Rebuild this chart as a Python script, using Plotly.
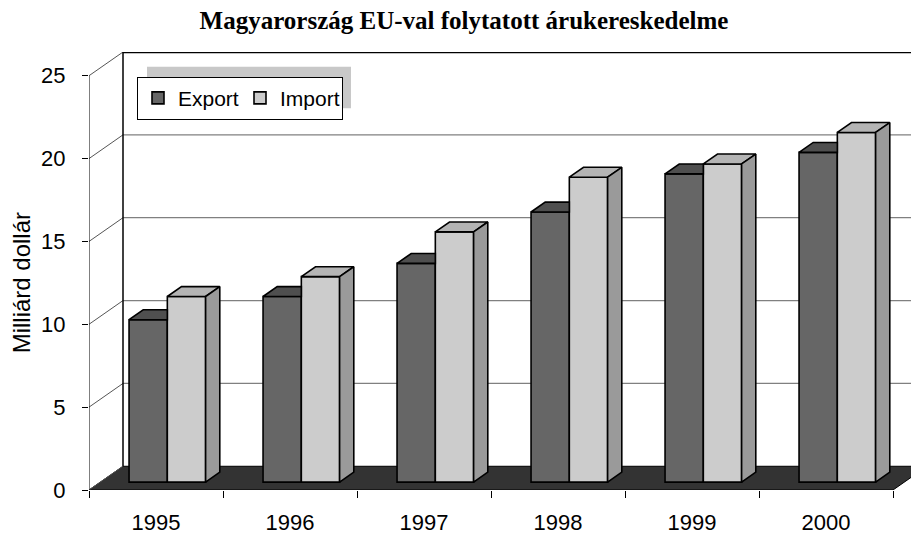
import plotly.graph_objects as go

# ---------------- data ----------------
years = ["1995", "1996", "1997", "1998", "1999", "2000"]
export_vals = [9.8, 11.2, 13.2, 16.3, 18.6, 19.9]
import_vals = [11.2, 12.4, 15.1, 18.4, 19.2, 21.1]
y_ticks = [0, 5, 10, 15, 20, 25]

TITLE = "Magyarország EU-val folytatott árukereskedelme"
Y_TITLE = "Milliárd dollár"
SERIES = ["Export", "Import"]

# ---------------- styling / geometry ----------------
PAGE_W, PAGE_H = 919, 535
OFF = 8                       # default body margin of the html page
W, H = PAGE_W - OFF, PAGE_H - OFF
ML, MR, MT, MB = 89 - OFF, 0, 52 - OFF, 40
PX_PER_CAT = 134.0
WALL_DX_PX, WALL_DY_PX = 34.0, 24.0
F_FRONT, F_BACK = 1 / 3, 0.75          # bar depth as fraction of floor depth
GAP = 1.5                               # gap width (150 %)

C_EXP, C_EXP_TOP = "#666666", "#4f4f4f"
C_IMP, C_IMP_TOP, C_IMP_SIDE = "#cccccc", "#b4b4b4", "#9a9a9a"
C_FLOOR = "#333333"
FONT = "Liberation Sans, Arial, sans-serif"

n = len(years)
plot_w = W - ML - MR
plot_h = H - MT - MB
x_max = plot_w / PX_PER_CAT
y_top = max(y_ticks)
y_max = y_top / (1 - WALL_DY_PX / plot_h)
py = plot_h / y_max
wdx = WALL_DX_PX / PX_PER_CAT
wdy = WALL_DY_PX / py
bx0, by0 = F_FRONT * wdx, F_FRONT * wdy
ddx, ddy = (F_BACK - F_FRONT) * wdx, (F_BACK - F_FRONT) * wdy
bw = 1 / (2 + GAP)

centers = [i + 0.5 for i in range(n)]
exp_x = [c + bx0 - bw / 2 for c in centers]
imp_x = [c + bx0 + bw / 2 for c in centers]


def px_x(page_x):
    return (page_x - OFF - ML) / plot_w


def px_y(page_y):
    return (H - MB - (page_y - OFF)) / plot_h


fig = go.Figure()

# front faces as real bars
fig.add_trace(go.Bar(x=exp_x, y=export_vals, base=by0, width=bw, name=SERIES[0],
                     marker=dict(color=C_EXP, line=dict(color="black", width=1.6)),
                     customdata=export_vals, hovertemplate="%{customdata}<extra>Export</extra>"))
fig.add_trace(go.Bar(x=imp_x, y=import_vals, base=by0, width=bw, name=SERIES[1],
                     marker=dict(color=C_IMP, line=dict(color="black", width=1.6)),
                     customdata=import_vals, hovertemplate="%{customdata}<extra>Import</extra>"))

# 3D tops and sides computed from the values
ex_top_x, ex_top_y = [], []
im_top_x, im_top_y = [], []
im_side_x, im_side_y = [], []
for i in range(n):
    a = exp_x[i] - bw / 2
    b = exp_x[i] + bw / 2
    te = export_vals[i] + by0
    ti = import_vals[i] + by0
    if import_vals[i] >= export_vals[i]:
        ex_top_x += [a, b, b, a + ddx, a, None]
    else:
        ex_top_x += [a, b, b + ddx, a + ddx, a, None]
    ex_top_y += [te, te, te + ddy, te + ddy, te, None]
    c2 = b + bw
    im_top_x += [b, c2, c2 + ddx, b + ddx, b, None]
    im_top_y += [ti, ti, ti + ddy, ti + ddy, ti, None]
    im_side_x += [c2, c2 + ddx, c2 + ddx, c2, c2, None]
    im_side_y += [by0, by0 + ddy, ti + ddy, ti, by0, None]

for xs, ys, col in [(ex_top_x, ex_top_y, C_EXP_TOP),
                    (im_top_x, im_top_y, C_IMP_TOP),
                    (im_side_x, im_side_y, C_IMP_SIDE)]:
    fig.add_trace(go.Scatter(x=xs, y=ys, mode="lines", fill="toself", fillcolor=col,
                             line=dict(color="black", width=1.6), showlegend=False,
                             hoverinfo="skip"))

shapes = []
# floor
shapes.append(dict(type="path", xref="x", yref="y", layer="below",
                   path=f"M 0,0 L {n},0 L {n + wdx},{wdy} L {wdx},{wdy} Z",
                   fillcolor=C_FLOOR, line=dict(color="black", width=1)))
# side-wall diagonals and back-wall gridlines
for v in y_ticks:
    shapes.append(dict(type="line", xref="x", yref="y", layer="below",
                       x0=0, y0=v, x1=wdx, y1=v + wdy, line=dict(color="#555555", width=1)))
    if 0 < v < y_top:
        shapes.append(dict(type="line", xref="x", yref="y", layer="below",
                           x0=wdx, y0=v + wdy, x1=n + wdx, y1=v + wdy,
                           line=dict(color="#808080", width=1.2)))
# front value axis
shapes.append(dict(type="line", xref="x", yref="y", layer="below",
                   x0=0, y0=0, x1=0, y1=y_top, line=dict(color="black", width=1)))
# back wall frame
shapes.append(dict(type="line", xref="x", yref="y", layer="below",
                   x0=wdx, y0=wdy, x1=wdx, y1=y_top + wdy, line=dict(color="black", width=1.5)))
shapes.append(dict(type="line", xref="x", yref="y", layer="below",
                   x0=wdx, y0=y_top + wdy, x1=n + wdx, y1=y_top + wdy,
                   line=dict(color="black", width=2.5)))
# legend shadow
shapes.append(dict(type="rect", xref="paper", yref="paper", layer="below",
                   x0=px_x(147), x1=px_x(351), y0=px_y(109), y1=px_y(67),
                   fillcolor="#c8c8c8", line=dict(width=0)))

fig.update_layout(
    width=W, height=H,
    margin=dict(l=ML, r=MR, t=MT, b=MB, pad=0),
    paper_bgcolor="white", plot_bgcolor="white",
    barmode="overlay",
    shapes=shapes,
    title=dict(text=f"<b>{TITLE}</b>", x=(464 - OFF) / W, xref="container", xanchor="center",
               y=1 - (20 - OFF) / H, yref="container", yanchor="middle",
               font=dict(family="Liberation Serif, Times New Roman, serif", size=25, color="black")),
    legend=dict(orientation="h", x=px_x(137), xanchor="left",
                y=px_y(77), yanchor="top",
                bgcolor="white", bordercolor="black", borderwidth=1,
                entrywidth=57, entrywidthmode="pixels",
                font=dict(family=FONT, size=21, color="black")),
    annotations=[dict(text=Y_TITLE, textangle=-90, xref="paper", yref="paper",
                      x=px_x(21), y=px_y(286), xanchor="center", yanchor="middle",
                      showarrow=False, font=dict(family=FONT, size=24, color="black"))],
    xaxis=dict(range=[0, x_max], tickmode="array", tickvals=centers, ticktext=years,
               ticks="", showgrid=False, zeroline=False, showline=False,
               tickfont=dict(family=FONT, size=22, color="black"),
               ticklabelstandoff=17,
               minor=dict(tickmode="array", tickvals=list(range(n + 1)), ticks="outside",
                          ticklen=7, tickcolor="black", tickwidth=1, showgrid=False)),
    yaxis=dict(range=[0, y_max], tickmode="array", tickvals=y_ticks,
               ticks="outside", ticklen=6, tickcolor="black", tickwidth=1,
               showgrid=False, zeroline=False, showline=False,
               tickfont=dict(family=FONT, size=22, color="black"),
               ticklabelstandoff=12),
    showlegend=True,
)

fig.write_html("out.html")
